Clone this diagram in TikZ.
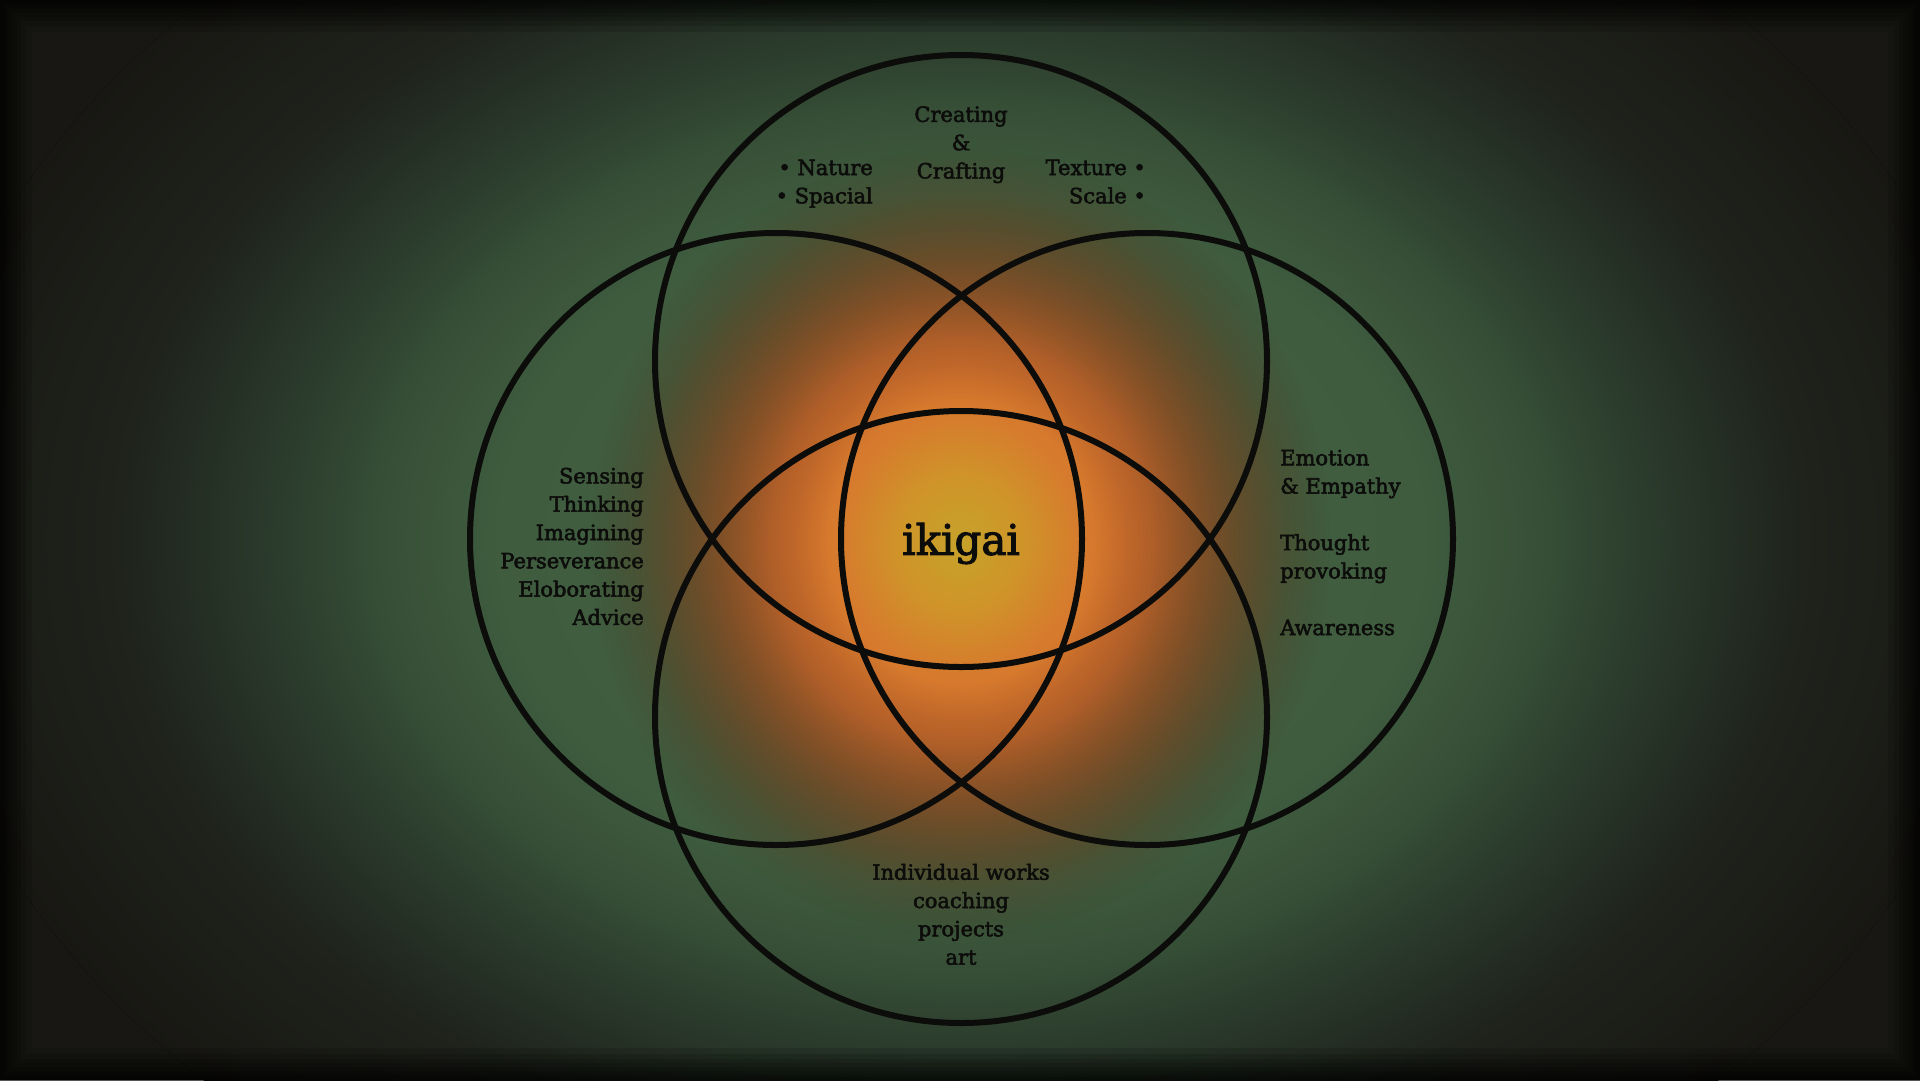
\documentclass[tikz,border=0pt]{standalone}
\usepackage{fontspec}
\setmainfont{DejaVu Serif}
\newfontfamily\lblfont{DejaVu Serif}[FakeBold=2.5]
\usetikzlibrary{fadings}
\definecolor{ink}{HTML}{0C0C0A}
\definecolor{bgdark}{HTML}{181713}
\definecolor{vgA}{HTML}{446144}
\definecolor{vgB}{HTML}{3F5C3F}
\definecolor{vgC}{HTML}{374F37}
\definecolor{vgD}{HTML}{2A3A2B}
\definecolor{vgE}{HTML}{1F231C}
\definecolor{glA}{HTML}{C6A22A}
\definecolor{glB}{HTML}{CF9529}
\definecolor{glC}{HTML}{D67C2D}
\definecolor{glD}{HTML}{D4702F}
\definecolor{glE}{HTML}{C86E31}
\definecolor{glF}{HTML}{A87038}
\pgfdeclareradialshading{vignette}{\pgfpoint{0bp}{0bp}}{%
  color(0bp)=(vgA); color(11bp)=(vgB); color(13.75bp)=(vgC);
  color(16.5bp)=(vgD); color(20bp)=(vgE); color(25bp)=(bgdark); color(50bp)=(bgdark)}
\pgfdeclareradialshading{glow}{\pgfpoint{0bp}{0bp}}{%
  color(0bp)=(glA); color(4bp)=(glB); color(8bp)=(glC); color(12bp)=(glD);
  color(16bp)=(glE); color(25bp)=(glF); color(50bp)=(glF)}
\pgfdeclareradialshading{glowmask}{\pgfpoint{0bp}{0bp}}{%
  color(0bp)=(pgftransparent!0); color(9bp)=(pgftransparent!0);
  color(13bp)=(pgftransparent!18); color(18bp)=(pgftransparent!55);
  color(22bp)=(pgftransparent!85); color(25bp)=(pgftransparent!100); color(50bp)=(pgftransparent!100)}
\pgfdeclarefading{glowfade}{\pgfuseshading{glowmask}}
\tikzset{
  ring/.style={circle, draw=ink, line width=6pt, inner sep=0pt, minimum size=612pt},
  lbl/.style={text=ink, inner sep=0pt, font=\lblfont\fontsize{21}{28.3}\selectfont},
  bigl/.style={text=ink, inner sep=0pt, font=\lblfont\fontsize{42}{48}\selectfont},
  frame/.style={black, opacity=0.13},
}
\begin{document}
\begin{tikzpicture}[x=1pt, y=-1pt]
\useasboundingbox (0,0) rectangle (1920,1080);
\clip (0,0) rectangle (1920,1080);
% background
\fill[bgdark] (0,0) rectangle (1920,1080);
\fill[shading=vignette] (961,540) ellipse [x radius=1050, y radius=780];
\fill[shading=glow, path fading=glowfade] (961,542) ellipse [x radius=370, y radius=395];
% dark frame
\foreach \w in {64,52,42,34,26,18,12,6} {
  \draw[frame, line width=\w pt] (0,0) rectangle (1920,1080);
}
% circles
\node[ring] (ctop) at (961,361) {};
\node[ring] (cleft) at (776,539) {};
\node[ring] (cright) at (1147,539) {};
\node[ring] (cbot) at (961,717) {};
% texts
\node[lbl, align=center] (ttop) at (961,144.5) {\strut Creating\\\strut \&\\\strut Crafting};
\node[lbl, align=right, anchor=east] (tnat) at (873,183.5) {\strut • Nature\\\strut • Spacial};
\node[lbl, align=right, anchor=east] (ttex) at (1146,183.5) {\strut Texture •\\\strut Scale •};
\node[lbl, align=right, anchor=east] (tleft) at (644,548.5) {\strut Sensing\\\strut Thinking\\\strut Imagining\\\strut Perseverance\\\strut Eloborating\\\strut Advice};
\node[lbl, align=left, anchor=west] (tright) at (1280,544.5) {\strut Emotion\\\strut \& Empathy\\\strut \\\strut Thought\\\strut provoking\\\strut \\\strut Awareness};
\node[lbl, align=center] (tbot) at (961,916.5) {\strut Individual works\\\strut coaching\\\strut projects\\\strut art};
\node[bigl] (tiki) at (961,543.5) {ikigai};
\end{tikzpicture}
\end{document}
